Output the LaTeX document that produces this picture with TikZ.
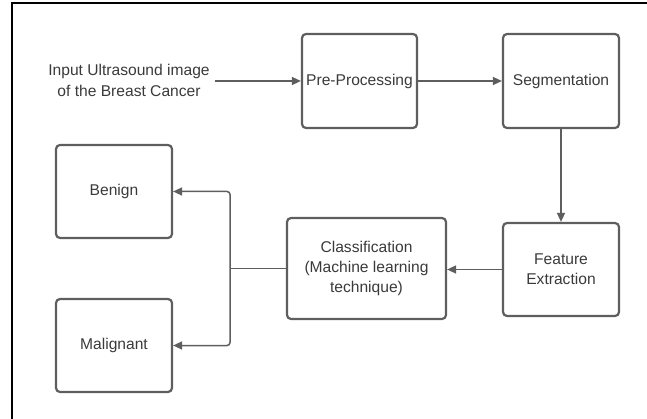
\documentclass[tikz,border=0pt]{standalone}
\usepackage{fontspec}
\setmainfont{Liberation Sans}
\usetikzlibrary{arrows.meta}
\definecolor{boxc}{HTML}{5E5E5E}
\definecolor{txtc}{HTML}{3A3A3A}
\begin{document}
\begin{tikzpicture}[x=1pt,y=-1pt,
  every node/.style={text=txtc, font=\fontsize{15.6}{20.3}\selectfont, align=center},
  box/.style={draw=boxc, line width=2.2pt, rounded corners=4pt, inner sep=0pt},
  conn/.style={draw=boxc, line width=1.5pt, -{Triangle[length=9pt,width=8pt]}},
  plain/.style={draw=boxc, line width=1.5pt}]
\useasboundingbox (0,0) rectangle (647,419);
\draw[black, line width=1.6pt] (12,419) -- (12,3) -- (647,3);
\node (input) at (129,80.5) {Input Ultrasound image\\of the Breast Cancer};
\node[box, minimum width=115pt, minimum height=94pt] (pre) at (359.5,81) {Pre-Processing};
\node[box, minimum width=116pt, minimum height=94pt] (seg) at (561,81) {Segmentation};
\node[box, minimum width=116pt, minimum height=93pt] (feat) at (561,269.5) {Feature\\Extraction};
\node[box, minimum width=159pt, minimum height=101pt] (cls) at (366.5,268.5) {Classification\\(Machine learning\\technique)};
\node[box, minimum width=116pt, minimum height=93pt] (benign) at (114,191.5) {Benign};
\node[box, minimum width=116pt, minimum height=93pt] (malig) at (114,345.5) {Malignant};
\coordinate (inend) at (215,81);
\coordinate (br) at (230,268.5);
\draw[conn] (inend) -- (inend -| pre.west);
\draw[conn] (pre.east) -- (seg.west);
\draw[conn] (seg.south) -- (feat.north);
\draw[conn] (feat.west) -- (feat.west -| cls.east);
\draw[plain] (cls.west) -- (br);
\draw[conn, rounded corners=3pt] (br) |- (benign.east);
\draw[conn, rounded corners=3pt] (br) |- (malig.east);
\end{tikzpicture}
\end{document}
